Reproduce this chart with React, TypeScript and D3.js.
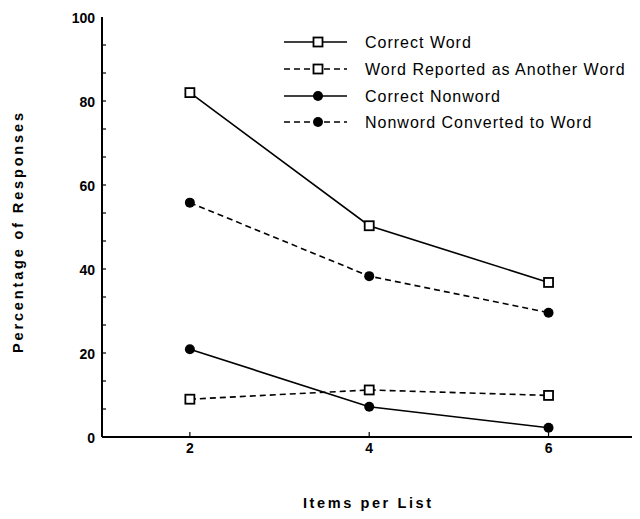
import { useEffect, useRef } from "react";
import * as d3 from "d3";

// ---- data ----
const listSizes = [2, 4, 6];
const correctWord = [82, 50.3, 36.8];
const wordAsAnotherWord = [9, 11.2, 9.9];
const correctNonword = [20.9, 7.2, 2.2];
const nonwordToWord = [55.8, 38.3, 29.6];

const yTicks = [0, 20, 40, 60, 80, 100];
const xTicks = [2, 4, 6];

const seriesNames = [
  "Correct Word",
  "Word Reported as Another Word",
  "Correct Nonword",
  "Nonword Converted to Word",
];

type Series = { name: string; values: number[]; dashed: boolean; marker: "square" | "dot" };

const series: Series[] = [
  { name: seriesNames[0], values: correctWord, dashed: false, marker: "square" },
  { name: seriesNames[1], values: wordAsAnotherWord, dashed: true, marker: "square" },
  { name: seriesNames[2], values: correctNonword, dashed: false, marker: "dot" },
  { name: seriesNames[3], values: nonwordToWord, dashed: true, marker: "dot" },
];

const W = 640;
const H = 519;
const FONT = "'Liberation Sans', Arial, Helvetica, sans-serif";

const App = () => {
  const svgRef = useRef<SVGSVGElement>(null);

  useEffect(() => {
    const svg = d3.select(svgRef.current);
    svg.selectAll("*").remove();

    const x = d3.scaleLinear().domain([1.02, 7.02]).range([102, 640]);
    const y = d3.scaleLinear().domain([0, 100]).range([437, 17]);

    const g = svg.append("g");

    // axes
    g.append("line").attr("x1", x.range()[0]).attr("x2", x.range()[1])
      .attr("y1", y(0)).attr("y2", y(0)).attr("stroke", "#000").attr("stroke-width", 2);
    g.append("line").attr("x1", x.range()[0]).attr("x2", x.range()[0])
      .attr("y1", y(0)).attr("y2", y(100)).attr("stroke", "#000").attr("stroke-width", 2);

    // y ticks, minor every 20/3
    const minor = d3.range(0, 15).map((i) => (i * 20) / 3);
    g.selectAll(".ytick").data(minor).join("line")
      .attr("x1", x.range()[0]).attr("x2", x.range()[0] + 4)
      .attr("y1", (d) => y(d)).attr("y2", (d) => y(d))
      .attr("stroke", "#000").attr("stroke-width", 1.2);

    g.selectAll(".ylab").data(yTicks).join("text")
      .attr("x", 95).attr("y", (d) => y(d) + 1).attr("dy", "0.35em")
      .attr("text-anchor", "end").attr("font-family", FONT)
      .attr("font-weight", "bold").attr("font-size", 14).text((d) => d);

    // x ticks
    g.selectAll(".xtick").data(xTicks).join("line")
      .attr("x1", (d) => x(d)).attr("x2", (d) => x(d))
      .attr("y1", y(0)).attr("y2", y(0) - 5)
      .attr("stroke", "#000").attr("stroke-width", 1.2);

    g.selectAll(".xlab").data(xTicks).join("text")
      .attr("x", (d) => x(d)).attr("y", 453)
      .attr("text-anchor", "middle").attr("font-family", FONT)
      .attr("font-weight", "bold").attr("font-size", 14).text((d) => d);

    // axis titles
    g.append("text").attr("x", 303).attr("y", 508)
      .attr("font-family", FONT).attr("font-weight", "bold").attr("font-size", 14.5)
      .attr("textLength", 128).attr("lengthAdjust", "spacing").text("Items per List");

    g.append("text").attr("transform", "translate(23,353) rotate(-90)")
      .attr("font-family", FONT)
      .attr("font-weight", "bold").attr("font-size", 14.5)
      .attr("textLength", 240).attr("lengthAdjust", "spacing")
      .text("Percentage of Responses");

    const line = d3.line<number>().x((_, i) => x(listSizes[i])).y((d) => y(d));

    const drawMarker = (sel: d3.Selection<SVGGElement, unknown, null, undefined>, kind: string, cx: number, cy: number) => {
      if (kind === "square") {
        sel.append("rect").attr("x", cx - 4.5).attr("y", cy - 4.5).attr("width", 9).attr("height", 9)
          .attr("fill", "#fff").attr("stroke", "#000").attr("stroke-width", 1.8);
      } else {
        sel.append("circle").attr("cx", cx).attr("cy", cy).attr("r", 5).attr("fill", "#000");
      }
    };

    series.forEach((s) => {
      const sg = g.append("g");
      sg.append("path").attr("d", line(s.values)).attr("fill", "none")
        .attr("stroke", "#000").attr("stroke-width", 1.6)
        .attr("stroke-dasharray", s.dashed ? "6,4" : null);
      s.values.forEach((v, i) => drawMarker(sg, s.marker, x(listSizes[i]), y(v)));
    });

    // legend
    const legendRows = [42, 69, 96, 122];
    series.forEach((s, i) => {
      const lg = g.append("g");
      const ly = legendRows[i];
      lg.append("line").attr("x1", 284).attr("x2", 347).attr("y1", ly).attr("y2", ly)
        .attr("stroke", "#000").attr("stroke-width", 1.6)
        .attr("stroke-dasharray", s.dashed ? "6,4" : null);
      drawMarker(lg, s.marker, 318, ly);
      lg.append("text").attr("x", 365).attr("y", ly).attr("dy", "0.35em")
        .attr("font-family", FONT).attr("font-size", 16).attr("letter-spacing", 1)
        .text(s.name);
    });
  }, []);

  return <svg ref={svgRef} width={W} height={H} style={{ display: "block", margin: "-8px", background: "#fff" }} />;
};

export default App;
